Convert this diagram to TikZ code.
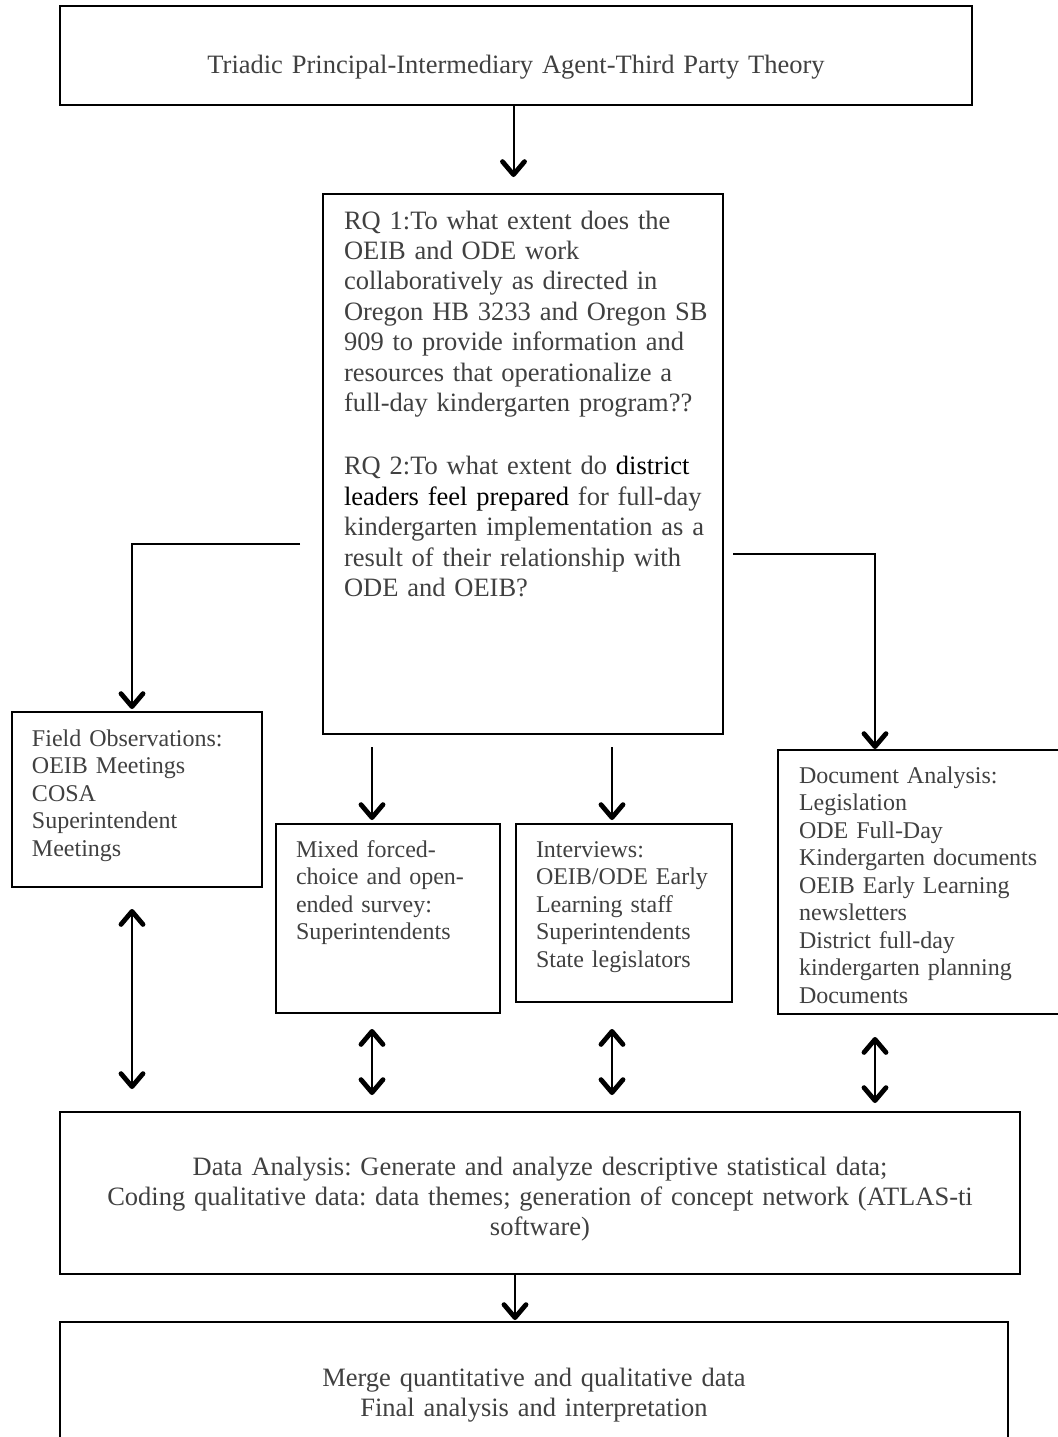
\documentclass[tikz,border=0pt]{standalone}
\usepackage{fontspec}
\setmainfont{Liberation Serif}
\usetikzlibrary{arrows.meta}
\definecolor{txtgray}{HTML}{404040}
\newcommand{\bigfnt}{\fontsize{13.25pt}{15.2pt}\selectfont\frenchspacing}
\newcommand{\smallfnt}{\fontsize{12pt}{13.75pt}\selectfont\frenchspacing}

\begin{document}
\begin{tikzpicture}[x=0.5pt, y=-0.5pt,
  box/.style={draw, line width=1pt, anchor=north west, inner xsep=10pt, inner ysep=0pt, text=txtgray},
  wide/.style={box, align=center, font=\bigfnt},
  small/.style={box, align=left, font=\smallfnt},
  tip/.style={},
  arr/.style={line width=1pt, -{Straight Barb[length=6.5pt,width=11pt,line width=2.4pt,round]}},
  darr/.style={line width=1pt, {Straight Barb[length=6.5pt,width=11pt,line width=2.4pt,round]}-{Straight Barb[length=6.5pt,width=11pt,line width=2.4pt,round]}}]

\useasboundingbox (0,0) rectangle (1057,1437);

\node[wide, text width=436pt, text height=33.5pt, text depth=16pt] (theory) at (59,5) {Triadic Principal-Intermediary Agent-Third Party Theory};

\node[box, align=left, font=\bigfnt, inner xsep=10.5pt, text width=179pt, text height=17.5pt, text depth=252.5pt] (rq) at (322,193)
  {\mbox{RQ 1:To what extent does the}\\
   \mbox{OEIB and ODE work}\\
   \mbox{collaboratively as directed in}\\
   \mbox{Oregon HB 3233 and Oregon SB}\\
   \mbox{909 to provide information and}\\
   \mbox{resources that operationalize a}\\
   \mbox{full-day kindergarten program??}\\[16.5pt]
   \mbox{RQ 2:To what extent do {\color{black}district}}\\
   \mbox{{\color{black}leaders feel prepared} for full-day}\\
   \mbox{kindergarten implementation as a}\\
   \mbox{result of their relationship with}\\
   \mbox{ODE and OEIB?}};

\node[small, text width=105pt, text height=17pt, text depth=70.5pt] (field) at (11,711)
  {Field Observations:\\ OEIB Meetings\\ COSA\\ Superintendent\\ Meetings};
\node[small, text width=92pt, text height=16.5pt, text depth=78pt] (mixed) at (275,823)
  {Mixed forced-\\ choice and open-\\ ended survey:\\ Superintendents};
\node[small, text width=88pt, text height=16.5pt, text depth=72.5pt] (interviews) at (515,823)
  {Interviews:\\ \mbox{OEIB/ODE Early}\\ Learning staff\\ Superintendents\\ State legislators};
\node[small, inner xsep=10.5pt, text width=121.5pt, text height=16.5pt, text depth=115.5pt] (doc) at (777,749)
  {Document Analysis:\\ Legislation\\ ODE Full-Day\\ \mbox{Kindergarten documents}\\ OEIB Early Learning\\ newsletters\\ District full-day\\ kindergarten planning\\ Documents};

\node[wide, text width=460pt, text height=31.5pt, text depth=49.5pt] (data) at (59,1111)
  {Data Analysis: Generate and analyze descriptive statistical data;\\
   Coding qualitative data: data themes; generation of concept network (ATLAS-ti\\
   software)};
\node[wide, text width=454pt, text height=32pt, text depth=33pt] (merge) at (59,1321)
  {Merge quantitative and qualitative data\\ Final analysis and interpretation};

% theory to questions
\coordinate (a1) at ([xshift=-1.25pt]theory.south);
\draw[arr, shorten >=8pt] (a1) -- (a1 |- rq.north);

% questions to the four data sources
\coordinate (lf) at ([shift={(-22,80)}]rq.west);
\draw[arr, shorten >=1pt] (lf) -| ([xshift=-2.5pt]field.north);
\coordinate (rt) at ([shift={(9,90)}]rq.east);
\draw[arr] (rt) -| ([xshift=-22.75pt]doc.north);
\coordinate (m1) at ([xshift=-8pt]mixed.north);
\draw[arr, shorten <=6pt, shorten >=1.5pt] (m1 |- rq.south) -- (m1);
\coordinate (i1) at ([xshift=-6pt]interviews.north);
\draw[arr, shorten <=6pt, shorten >=1.5pt] (i1 |- rq.south) -- (i1);

% sources to analysis
\foreach \b/\dx/\s/\e in {field/-2.5/10.5/11, mixed/-8/7.5/8, interviews/-6/13/8, doc/-22.75/11/4} {
  \coordinate (d) at ([xshift=\dx pt]\b.south);
  \draw[darr, shorten <=\s pt, shorten >=\e pt] (d) -- (d |- data.north);
}

\coordinate (a2) at ([xshift=-12.5pt]data.south);
\draw[arr, shorten >=0.5pt] (a2) -- (a2 |- merge.north);
\end{tikzpicture}
\end{document}
